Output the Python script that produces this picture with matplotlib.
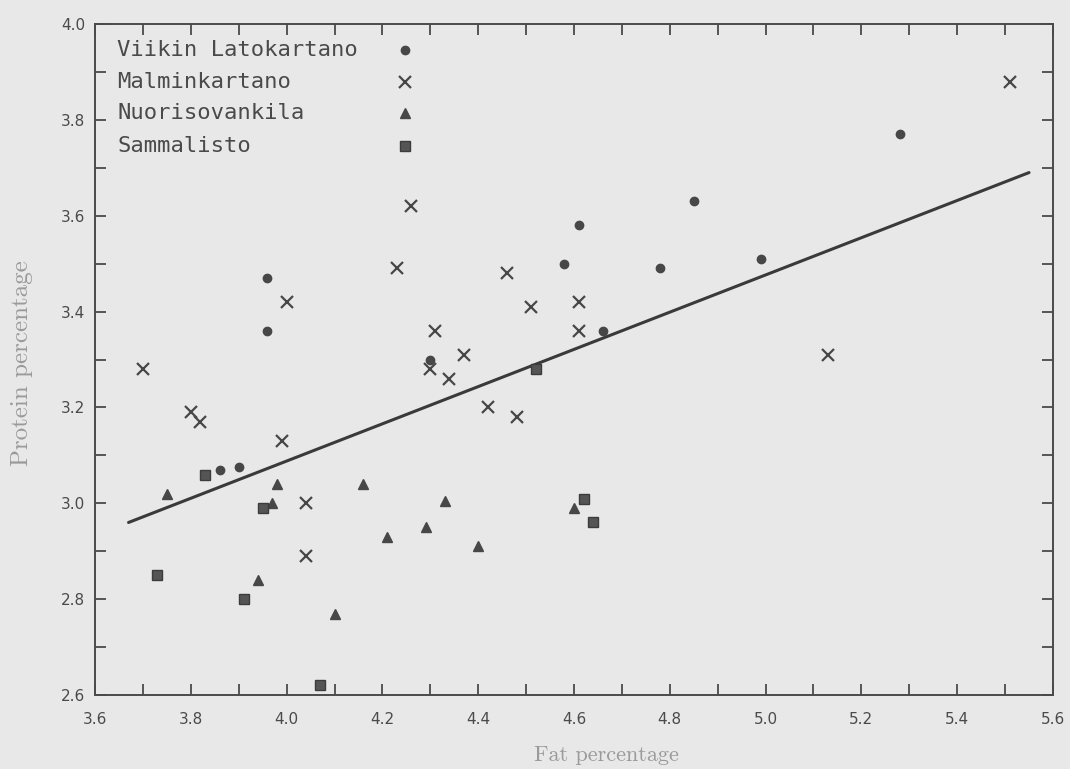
import numpy as np
import matplotlib
matplotlib.use('Agg')
from matplotlib import pyplot as plt
from matplotlib.ticker import MultipleLocator

# data
viikin_fat = [3.96, 3.96, 4.30, 3.86, 3.90, 4.61, 4.58, 4.85, 4.78, 4.66, 4.99, 5.28]
viikin_protein = [3.47, 3.36, 3.30, 3.07, 3.075, 3.58, 3.50, 3.63, 3.49, 3.36, 3.51, 3.77]

malmi_fat = [3.70, 3.80, 3.82, 3.99, 4.00, 4.23, 4.26, 4.31, 4.30, 4.46, 4.51,
             4.61, 4.61, 4.37, 4.34, 4.42, 4.48, 4.04, 4.04, 5.13, 5.51]
malmi_protein = [3.28, 3.19, 3.17, 3.13, 3.42, 3.49, 3.62, 3.36, 3.28, 3.48, 3.41,
                 3.42, 3.36, 3.31, 3.26, 3.20, 3.18, 3.00, 2.89, 3.31, 3.88]

nuoriso_fat = [3.75, 3.98, 3.97, 4.16, 4.21, 4.29, 4.33, 4.40, 3.94, 4.10, 4.60]
nuoriso_protein = [3.02, 3.04, 3.00, 3.04, 2.93, 2.95, 3.005, 2.91, 2.84, 2.77, 2.99]

samma_fat = [3.83, 3.95, 3.73, 3.91, 4.07, 4.52, 4.62, 4.64]
samma_protein = [3.06, 2.99, 2.85, 2.80, 2.62, 3.28, 3.01, 2.96]

# regression line end points
fit_fat = [3.67, 5.55]
fit_protein = [2.96, 3.69]

names = ['Viikin Latokartano', 'Malminkartano', 'Nuorisovankila', 'Sammalisto']

ink = '#474747'
paper = '#e8e8e8'

fig = plt.figure(figsize=(10.7, 7.69), dpi=100, facecolor=paper)
ax = fig.add_axes([0.0888, 0.0962, 0.8953, 0.8726], facecolor=paper)

ax.plot(fit_fat, fit_protein, color='#3a3a3a', lw=2.2, solid_capstyle='round')

styles = [dict(marker='o', ms=6, color=ink, mec=ink),
          dict(marker='x', ms=8, mew=1.6, color=ink),
          dict(marker='^', ms=7, color=ink, mec=ink),
          dict(marker='s', ms=6.5, color='#555555', mec='#3c3c3c')]
series = [(viikin_fat, viikin_protein), (malmi_fat, malmi_protein),
          (nuoriso_fat, nuoriso_protein), (samma_fat, samma_protein)]

for (fx, py), st, name in zip(series, styles, names):
    ax.plot(fx, py, ls='none', label=name, **st)

# hand-made key: names on the left, symbol on the right
key_y = [0.961, 0.9136, 0.867, 0.818]
for name, st, ky in zip(names, styles, key_y):
    ax.text(0.023, ky, name, transform=ax.transAxes, ha='left', va='center',
            family='DejaVu Sans Mono', fontsize=16, color='#4a4a4a')
    ax.plot([0.3236], [ky], transform=ax.transAxes, ls='none', **st)

ax.set_xlim(3.6, 5.6)
ax.set_ylim(2.6, 4.0)
ax.xaxis.set_major_locator(MultipleLocator(0.2))
ax.xaxis.set_minor_locator(MultipleLocator(0.1))
ax.yaxis.set_major_locator(MultipleLocator(0.2))
ax.yaxis.set_minor_locator(MultipleLocator(0.1))
ax.tick_params(which='both', direction='in', top=True, right=True,
               length=8, width=1.3, color='#4a4a4a')
ax.tick_params(axis='both', labelsize=11, labelcolor='#4a4a4a')
ax.tick_params(axis='x', pad=12)
ax.tick_params(axis='y', pad=7)
for s in ax.spines.values():
    s.set_color('#4a4a4a')
    s.set_linewidth(1.4)

ax.set_xlabel('Fat percentage', family='cmr10', fontsize=16, color='#9a9a9a')
ax.set_ylabel('Protein percentage', family='cmr10', fontsize=18, color='#9a9a9a')
ax.xaxis.set_label_coords(0.534, -0.0745)
ax.yaxis.set_label_coords(-0.0645, 0.495)

fig.savefig('out.png', dpi=100, facecolor=paper)
